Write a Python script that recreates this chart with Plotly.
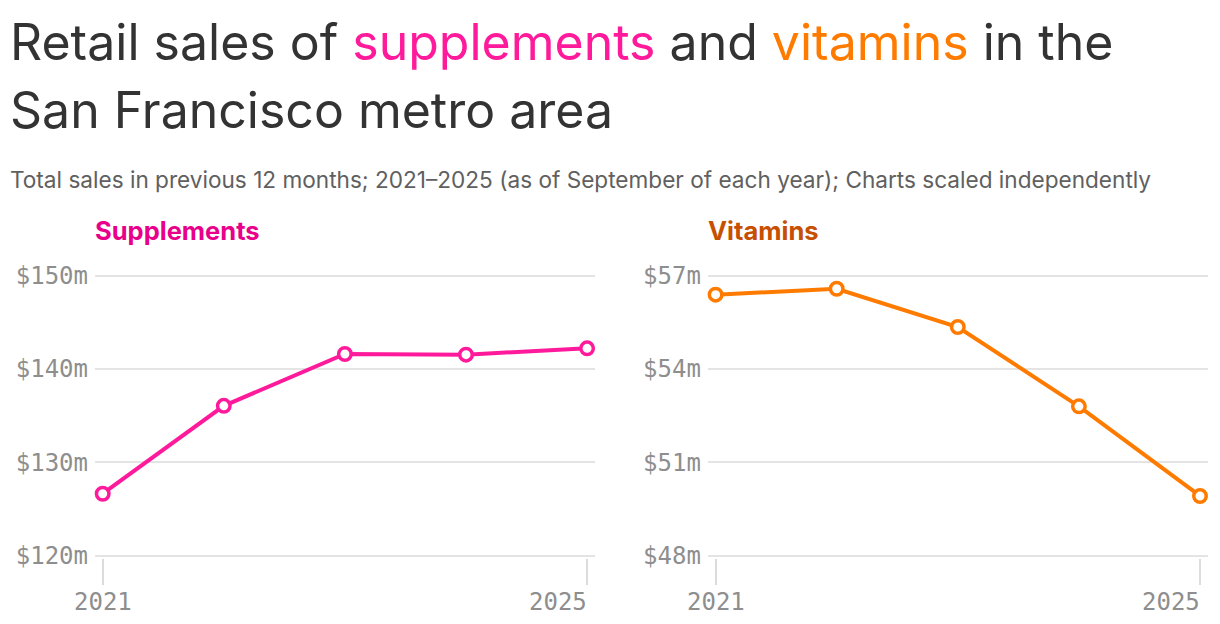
import plotly.graph_objects as go

years = [2021, 2022, 2023, 2024, 2025]
supplements = [126.64, 136.06, 141.61, 141.54, 142.22]
vitamins = [56.39, 56.58, 55.35, 52.80, 49.92]

supp_ticks = [120, 130, 140, 150]
supp_labels = ["$120m", "$130m", "$140m", "$150m"]
vit_ticks = [48, 51, 54, 57]
vit_labels = ["$48m", "$51m", "$54m", "$57m"]
x_ticks = [2021, 2025]
x_labels = ["2021", "2025"]

PINK = "#ff1a9c"
ORANGE = "#ff7b00"
PINK_T = "#e8008a"
ORANGE_T = "#c64f00"
W, H = 1220, 624

fig = go.Figure()
fig.add_trace(go.Scatter(x=years, y=supplements, mode="lines+markers",
                         line=dict(color=PINK, width=4),
                         marker=dict(size=12.5, color="white", line=dict(color=PINK, width=3.5)),
                         cliponaxis=False, xaxis="x", yaxis="y", showlegend=False))
fig.add_trace(go.Scatter(x=years, y=vitamins, mode="lines+markers",
                         line=dict(color=ORANGE, width=4),
                         marker=dict(size=12.5, color="white", line=dict(color=ORANGE, width=3.5)),
                         cliponaxis=False, xaxis="x2", yaxis="y2", showlegend=False))

pxyr = 121.1
pad = 7.7 / pxyr
tickfont = dict(family="DejaVu Sans Mono", size=24, color="#8e8e8e")
xcommon = dict(range=[2021 - pad, 2025 + pad], tickvals=x_ticks, showticklabels=False,
               ticks="outside", ticklen=26, tickwidth=1.5, tickcolor="#dcdcdc",
               showgrid=False, zeroline=False, showline=False, automargin=False)
ycommon = dict(showgrid=True, gridcolor="#e4e4e4", gridwidth=1.6, zeroline=False,
               showline=False, ticks="", tickfont=tickfont, ticklabelstandoff=6,
               automargin=False)

# y axes: extend range slightly so edge gridlines are drawn
top_px, bot_px = 275.7, 555.7
ext_px = 2.0
y0 = 1 - (bot_px + ext_px) / H
y1 = 1 - (top_px - ext_px) / H
s_ext = ext_px * 30 / (bot_px - top_px)
v_ext = ext_px * 9 / (bot_px - top_px)

fig.update_layout(
    width=W, height=H, margin=dict(l=0, r=0, t=0, b=0, autoexpand=False),
    paper_bgcolor="white", plot_bgcolor="white",
    xaxis=dict(domain=[95.0 / W, (102.7 + 4 * pxyr + 7.7) / W], anchor="y", **xcommon),
    xaxis2=dict(domain=[(1200 - 4 * pxyr - 7.7) / W, 1207.7 / W], anchor="y2", **xcommon),
    yaxis=dict(domain=[y0, y1], anchor="x", range=[120 - s_ext, 150 + s_ext], tickvals=supp_ticks,
               ticktext=supp_labels, **ycommon),
    yaxis2=dict(domain=[y0, y1], anchor="x2", range=[48 - v_ext, 57 + v_ext], tickvals=vit_ticks,
                ticktext=vit_labels, **ycommon),
)

# x tick labels: first centred on its tick, last right-aligned to its tick
for xa in ["x", "x2"]:
    for i, (tv, tl) in enumerate(zip(x_ticks, x_labels)):
        last = i == len(x_ticks) - 1
        fig.add_annotation(xref=xa, yref="paper", x=tv, y=1 - 601.7 / H,
                           xanchor="right" if last else "center", yanchor="middle",
                           xshift=2 if last else 0,
                           showarrow=False, font=tickfont, text=tl)

title_font = dict(family="Inter", size=50, color="#333333")
fig.add_annotation(xref="paper", yref="paper", x=8 / W, y=1 - 42 / H, xanchor="left", yanchor="middle",
                   showarrow=False, font=title_font,
                   text=f"Retail sales of <span style='color:{PINK}'>supplements</span> and "
                        f"<span style='color:{ORANGE}'>vitamins</span> in the")
fig.add_annotation(xref="paper", yref="paper", x=8 / W, y=1 - 110 / H, xanchor="left", yanchor="middle",
                   showarrow=False, font=title_font, text="San Francisco metro area")
fig.add_annotation(xref="paper", yref="paper", x=8 / W, y=1 - 180 / H, xanchor="left", yanchor="middle",
                   showarrow=False, font=dict(family="Inter", size=22.6, color="#606060"),
                   text="Total sales in previous 12 months; 2021–2025 (as of September of each year); Charts scaled independently")
fig.add_annotation(xref="paper", yref="paper", x=93 / W, y=1 - 230 / H, xanchor="left", yanchor="middle",
                   showarrow=False, font=dict(family="Inter", size=25.5, color=PINK_T, weight="bold"),
                   text="Supplements")
fig.add_annotation(xref="paper", yref="paper", x=706 / W, y=1 - 230 / H, xanchor="left", yanchor="middle",
                   showarrow=False, font=dict(family="Inter", size=25.5, color=ORANGE_T, weight="bold"),
                   text="Vitamins")

fig.write_html("out.html")
